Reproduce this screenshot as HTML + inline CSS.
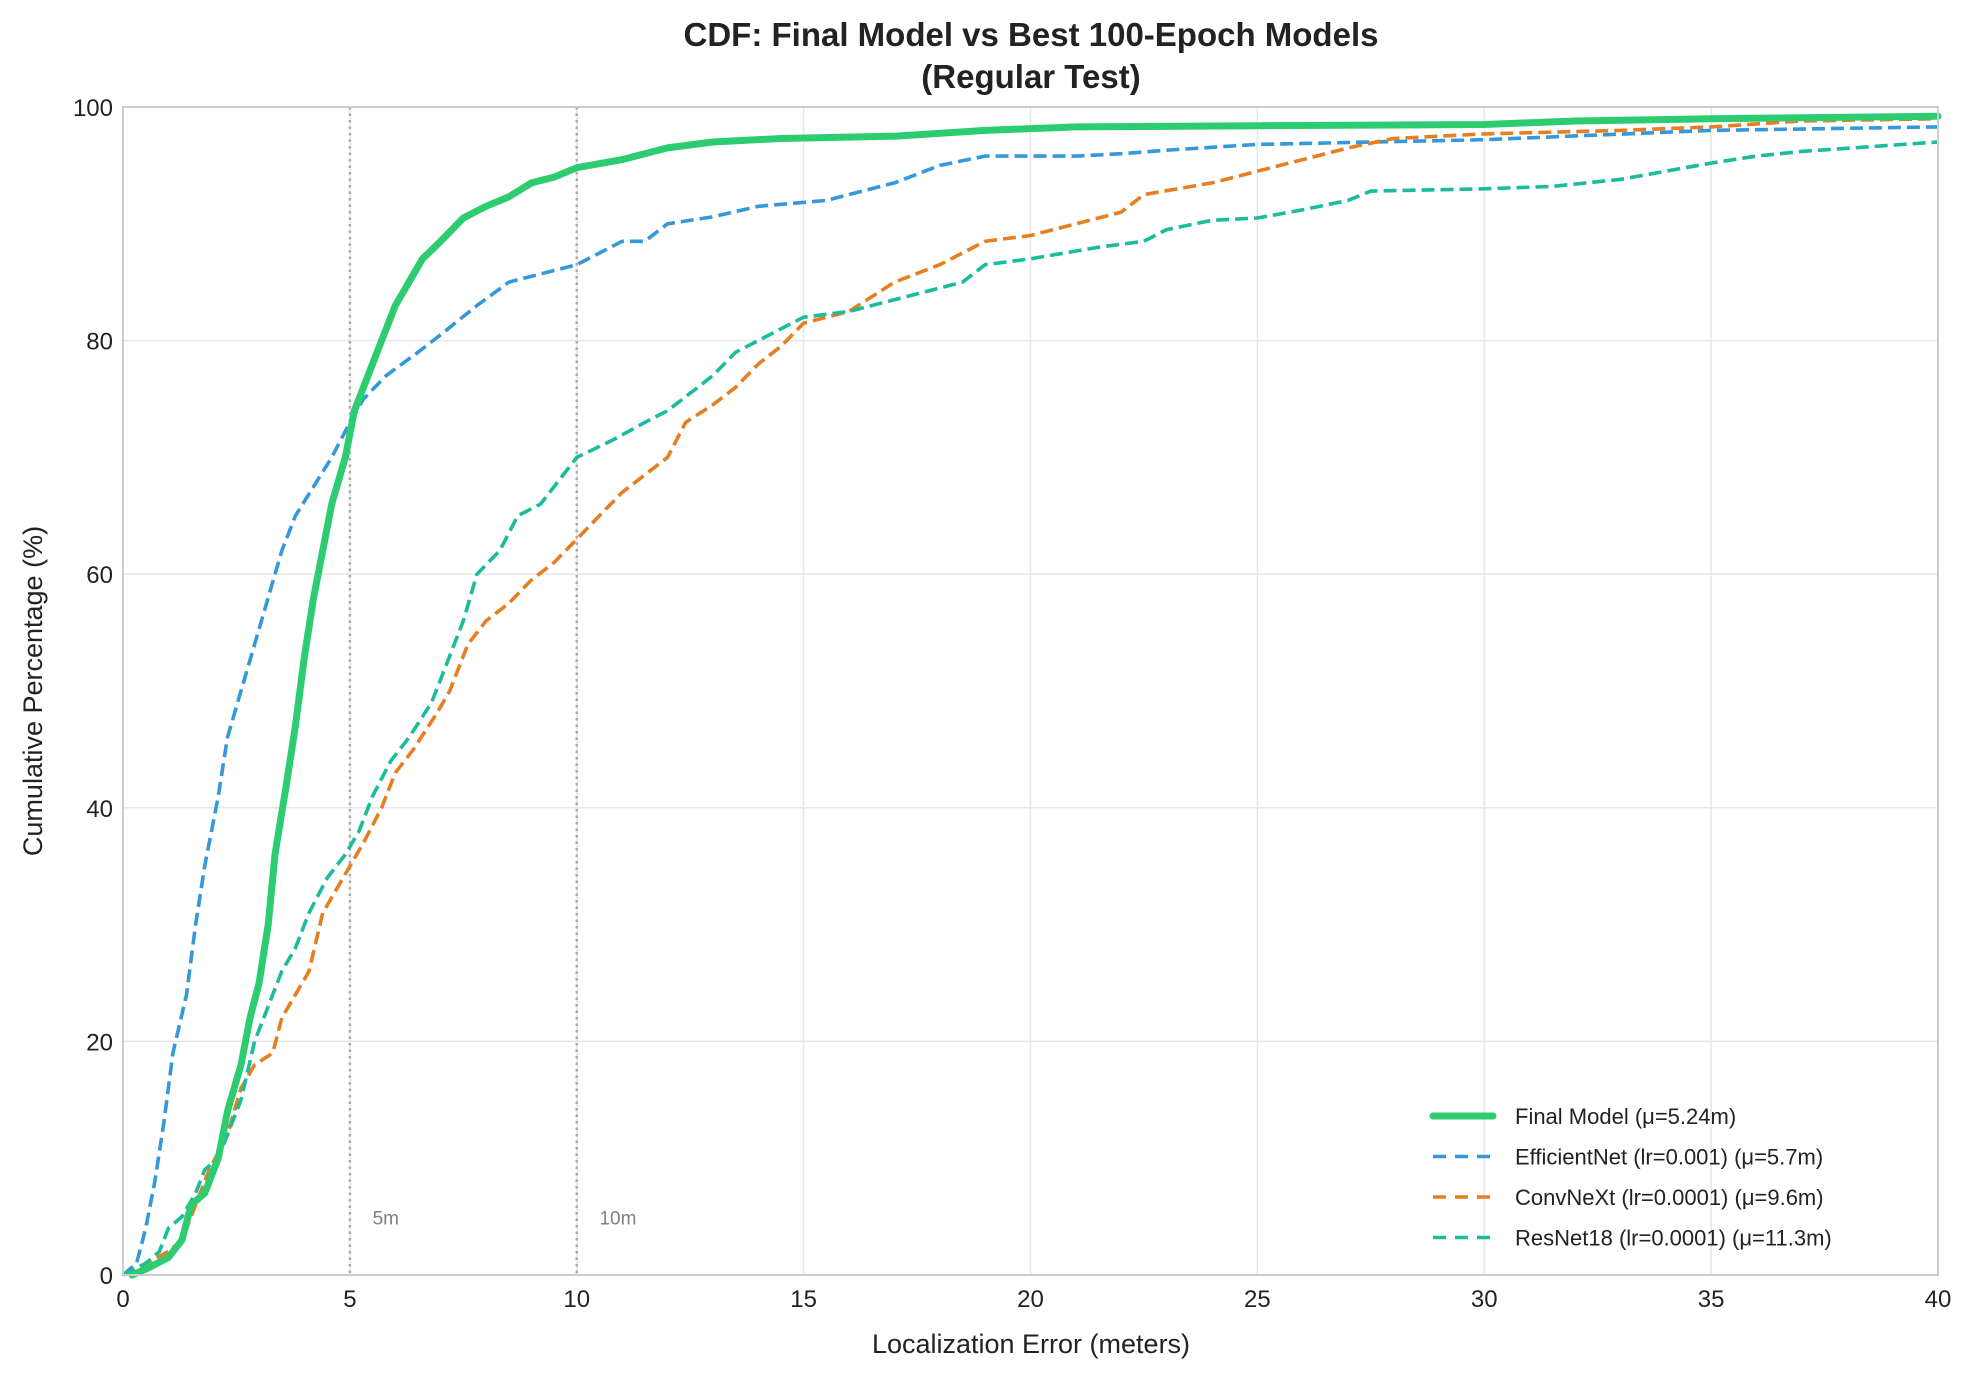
<!DOCTYPE html>
<html><head><meta charset="utf-8"><style>
body{margin:0;background:#fff}
svg text{font-family:"Liberation Sans",Arial,sans-serif}
</style></head><body>
<svg id="chart" width="1975" height="1376" viewBox="0 0 1975 1376" xmlns="http://www.w3.org/2000/svg">
<rect width="1975" height="1376" fill="#fff"/>
<text x="1031" y="46" text-anchor="middle" font-size="33" font-weight="bold" fill="#222">CDF: Final Model vs Best 100-Epoch Models</text>
<text x="1031" y="88" text-anchor="middle" font-size="33" font-weight="bold" fill="#222">(Regular Test)</text>
<g id="grid"></g>
<g id="series"></g>
<rect x="123" y="107" width="1815" height="1168" fill="none" stroke="#cccccc" stroke-width="2"/>
<g id="ticks"></g>
<text x="1031" y="1353" text-anchor="middle" font-size="27" fill="#222">Localization Error (meters)</text>
<text transform="translate(42,691) rotate(-90)" text-anchor="middle" font-size="27" fill="#222">Cumulative Percentage (%)</text>
<g id="legend"></g>
</svg>
<script>
const xTicks=[0,5,10,15,20,25,30,35,40];
const yTicks=[0,20,40,60,80,100];
const refLines=[5,10];
const refLabels=["5m","10m"];
const seriesNames=["Final Model (μ=5.24m)","EfficientNet (lr=0.001) (μ=5.7m)","ConvNeXt (lr=0.0001) (μ=9.6m)","ResNet18 (lr=0.0001) (μ=11.3m)"];
const finalX=[0.2,0.5,1,1.3,1.5,1.8,2.1,2.3,2.6,2.8,3.0,3.2,3.35,3.6,3.8,4.0,4.2,4.4,4.6,4.9,5.1,5.4,5.7,6.0,6.3,6.6,7.0,7.5,8,8.5,9,9.5,10,11,12,13,14.5,17,19,21,25,30,32,35,40];
const finalY=[0,0.5,1.5,3,6,7,10,14,18,22,25,30,36,42,47,53,58,62,66,70,74,77,80,83,85,87,88.5,90.5,91.5,92.3,93.5,94,94.8,95.5,96.5,97,97.3,97.5,98,98.3,98.4,98.5,98.8,99,99.2];
const effX=[0,0.3,0.5,0.7,0.9,1.1,1.4,1.6,1.8,2.1,2.3,2.6,2.9,3.2,3.5,3.8,4.2,4.6,5.0,5.3,5.8,6.5,7,7.8,8.5,9.5,10,11,11.5,12,13,14,15.5,17,18,19,21,22,23,25,30,35,40];
const effY=[0,1,4,8,13,19,24,30,35,41,46,50,54,58,62,65,67.5,70,73,75,77,79,80.5,83,85,86,86.5,88.5,88.5,90,90.6,91.5,92,93.5,95,95.8,95.8,96,96.3,96.8,97.2,98,98.3];
const convX=[0,0.5,1,1.3,1.6,1.9,2.3,2.6,2.9,3.3,3.5,3.8,4.1,4.4,4.7,5.0,5.3,5.7,6,6.4,6.9,7.2,7.6,8,8.5,9,9.5,10,10.5,11,11.5,12,12.4,13,13.5,14,14.5,15,16,17,18,19,20,21,22,22.5,24,25,26,27,28,30,33,35,37,40];
const convY=[0,1,2,3,6,9,12,16,18,19,22,24,26,31,33,35,37,40,43,45,48,50,54,56,57.5,59.5,61,63,65,67,68.5,70,73,74.5,76,78,79.5,81.5,82.5,85,86.5,88.5,89,90,91,92.5,93.5,94.5,95.5,96.5,97.3,97.7,98,98.3,98.8,99];
const resX=[0,0.5,0.8,1,1.3,1.6,1.8,2.1,2.3,2.6,2.9,3.2,3.5,3.8,4.1,4.5,4.9,5.2,5.5,5.9,6.3,6.8,7.1,7.5,7.8,8.3,8.7,9.2,9.6,10,10.8,11.5,12,12.5,13,13.5,14,14.5,15,16,17,18.5,19,20,21.5,22.5,23,24,25,26,27,27.5,30,31.5,33,34,35,36,37,40];
const resY=[0,1,2,4,5,7,9,10,12,15,20,23,26,28,31,34,36,38,41,44,46,49,52,56,60,62,65,66,68,70,71.5,73,74,75.5,77,79,80,81,82,82.5,83.5,85,86.5,87,88,88.5,89.5,90.3,90.5,91.2,92,92.8,93,93.2,93.8,94.5,95.2,95.8,96.2,97];

const L=123,R=1938,T=107,B=1275;
const sx=v=>L+(v-0)/(40-0)*(R-L);
const sy=v=>B-(v-0)/(100-0)*(B-T);
const NS="http://www.w3.org/2000/svg";
function mk(tag,attrs,parent){const e=document.createElementNS(NS,tag);for(const k in attrs)e.setAttribute(k,attrs[k]);parent.appendChild(e);return e;}
const grid=document.getElementById('grid'),ticks=document.getElementById('ticks'),ser=document.getElementById('series'),leg=document.getElementById('legend');
xTicks.forEach(v=>{
  const g=mk('line',{x1:sx(v),x2:sx(v),y1:T,y2:B,stroke:'#e6e6e6','stroke-width':1.5},grid);
  
  
  const t=mk('text',{x:sx(v),y:1307,'text-anchor':'middle','font-size':24,fill:'#222'},ticks);
  t.textContent=v;
  
  
});
yTicks.forEach(v=>{
  const g=mk('line',{x1:L,x2:R,y1:sy(v),y2:sy(v),stroke:'#e6e6e6','stroke-width':1.5},grid);
  
  
  const t=mk('text',{x:113,y:sy(v)+9,'text-anchor':'end','font-size':24,fill:'#222'},ticks);
  t.textContent=v;
  
  
});
refLines.forEach((v,i)=>{
  const l=mk('line',{x1:sx(v),x2:sx(v),y1:T,y2:B,stroke:'#aaaaaa','stroke-width':2.5,'stroke-dasharray':'2.5 4'},grid);
  
  
  const t=mk('text',{x:sx(v+0.5),y:sy(5)+8,'font-size':19,fill:'#808080'},grid);
  t.textContent=refLabels[i];
  
  
});
const defs=[
 {x:effX,y:effY,c:'#3498db',w:3.6,d:'13 6',n:'efficientnet-line'},
 {x:convX,y:convY,c:'#e67e22',w:3.6,d:'13 6',n:'convnext-line'},
 {x:resX,y:resY,c:'#1abc9c',w:3.6,d:'13 6',n:'resnet18-line'},
 {x:finalX,y:finalY,c:'#2ecc71',w:7,d:'',n:'final-model-line'}
];
defs.forEach(s=>{
  const pts=s.x.map((v,i)=>sx(v).toFixed(1)+','+sy(s.y[i]).toFixed(1)).join(' ');
  const p=mk('polyline',{points:pts,fill:'none',stroke:s.c,'stroke-width':s.w,'stroke-linejoin':'round','stroke-linecap':s.d?'butt':'round'},ser);
  if(s.d)p.setAttribute('stroke-dasharray',s.d);
  
  
});
const legOrder=[3,0,1,2];
legOrder.forEach((k,i)=>{
  const s=defs[k],y=1116+i*40.5;
  const l=mk('line',{x1:1433,x2:1493,y1:y,y2:y,stroke:s.c,'stroke-width':s.w,'stroke-linecap':s.d?'butt':'round'},leg);
  if(s.d)l.setAttribute('stroke-dasharray','13 9');
  
  
  const t=mk('text',{x:1515,y:y+8,'font-size':22,fill:'#222'},leg);
  t.textContent=seriesNames[i];
  
  
});
</script>
</body></html>
